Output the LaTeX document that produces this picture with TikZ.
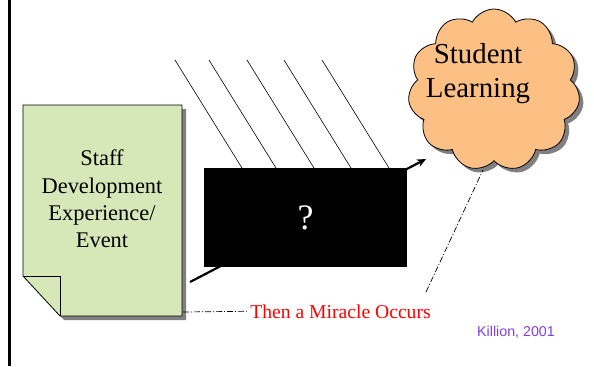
\documentclass[tikz,border=0pt]{standalone}
\usepackage{fontspec}
\setmainfont{Liberation Serif}
\newfontfamily\arialfont{Liberation Sans}
\usetikzlibrary{shapes.symbols, shadows, arrows.meta, positioning}
\definecolor{docgreen}{HTML}{D6E7B8}
\definecolor{cloudorange}{HTML}{FCC085}
\definecolor{citepurple}{HTML}{7F3FDF}

\tikzset{
  greyshadow/.style={drop shadow={shadow xshift=4bp, shadow yshift=-4bp, fill=black!50, opacity=1}},
  docshape/.style={draw, line width=0.8bp, fill=docgreen},
  doctext/.style={align=center, font=\fontsize{22.5}{27.5}\selectfont},
  qbox/.style={fill=black, text=white, minimum width=203bp, minimum height=99bp, inner sep=0pt,
    font=\fontsize{36}{40}\selectfont},
  thought/.style={cloud, cloud puffs=11, cloud puff arc=125, aspect=1.05, draw, line width=0.8bp,
    fill=cloudorange, minimum width=172bp, minimum height=162bp, inner sep=0pt, greyshadow},
  hatch/.style={line width=0.6bp},
  callout/.style={line width=0.7bp, dash pattern=on 6bp off 2bp on 1bp off 2bp},
  link/.style={line width=2.2bp, -{Stealth[length=9bp, width=8bp]}}
}

\begin{document}
\begin{tikzpicture}[x=1bp, y=-1bp]
  \useasboundingbox (0,0) rectangle (594,366);

  % left rule
  \draw[line width=2.5bp] (9.7,0) -- (9.7,366);

  % document with folded corner
  \draw[docshape, greyshadow] (23,105) -- (182,105) -- (182,316) -- (60,316) -- (23,276) -- cycle;
  \draw[line width=0.8bp] (23,276) -- (60,276) -- (60,316);
  \node[doctext] (doc) at (102,199) {Staff\\Development\\Experience/\\Event};

  % cloud
  \node[thought] (cloud) at (494,90) {};
  \node[align=center, font=\fontsize{29}{34}\selectfont] (learn) at (478,74) {Student\\Learning};

  % arrow behind the box
  \coordinate (arrstart) at (190,282);
  \coordinate (arrend) at (426,159);
  \draw[link] (arrstart) -- (arrend);

  % rays falling on the box
  \foreach \x in {175,209,247,284,322}
    \draw[hatch] (\x,60) -- ++(67,108);

  \node[qbox] (box) at (305.5,217.5) {?};

  % callout
  \node[text=red, font=\fontsize{19.7}{23}\selectfont, anchor=base] (miracle) at (340.5,318) {Then a Miracle Occurs};
  \coordinate (docedge) at (183,312);
  \coordinate (tipA) at (426,292);
  \coordinate (tipB) at (483,170);
  \draw[callout] (docedge) -- (miracle.west);
  \draw[callout] (tipA) -- (tipB);

  \node[text=citepurple, font=\arialfont\fontsize{14.3}{17}\selectfont] (cite) at (516,332) {Killion, 2001};
\end{tikzpicture}
\end{document}
